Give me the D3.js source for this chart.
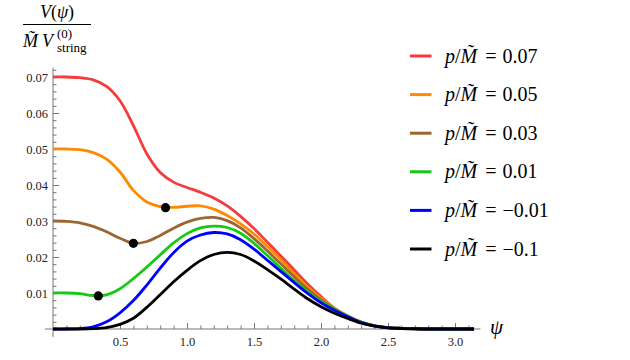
<!DOCTYPE html>
<html>
<head>
<meta charset="utf-8">
<script src="https://cdn.jsdelivr.net/npm/d3@7"></script>
<style>
  body { margin: 0; background: #fff; }
  svg text, svg tspan { font-family: "Liberation Serif", "DejaVu Serif", serif !important; }
  .tick line { stroke: #777; }
</style>
</head>
<body>
<div id="chart"></div>
<script>
const serif = "Liberation Serif";

// psi grid shared by every curve
const psiValues = [0, 0.1, 0.2, 0.3, 0.4, 0.5, 0.6, 0.7, 0.8, 0.9, 1.0, 1.1, 1.2, 1.3, 1.4, 1.5,
  1.6, 1.7, 1.8, 1.9, 2.0, 2.1, 2.2, 2.3, 2.4, 2.5, 2.6, 2.7, 2.8, 2.9, 3.0, 3.1416];

// V(psi), one list per p/M value
const vP007 = [0.0700, 0.0700, 0.0698, 0.0692, 0.0674, 0.0634, 0.0565, 0.0487, 0.0435, 0.0408,
  0.0393, 0.0380, 0.0364, 0.0342, 0.0313, 0.0279, 0.0241, 0.0203, 0.0164, 0.0125, 0.0090,
  0.0058, 0.0036, 0.0019, 0.0009, 0.0004, 0.0002, 0.0001, 0, 0, 0, 0];
const vP005 = [0.0500, 0.0500, 0.0498, 0.0490, 0.0472, 0.0436, 0.0385, 0.0353, 0.0340, 0.0338,
  0.0341, 0.0342, 0.0333, 0.0315, 0.0292, 0.0264, 0.0229, 0.0193, 0.0154, 0.0117, 0.0085,
  0.0058, 0.0036, 0.0019, 0.0009, 0.0004, 0.0002, 0.0001, 0, 0, 0, 0];
const vP003 = [0.0300, 0.0299, 0.0295, 0.0285, 0.0270, 0.0252, 0.0238, 0.0243, 0.0260, 0.0280,
  0.0297, 0.0307, 0.0310, 0.0301, 0.0281, 0.0251, 0.0217, 0.0181, 0.0145, 0.0110, 0.0081,
  0.0056, 0.0035, 0.0019, 0.0009, 0.0004, 0.0002, 0.0001, 0, 0, 0, 0];
const vP001 = [0.0100, 0.0100, 0.0098, 0.0093, 0.0095, 0.0112, 0.0140, 0.0172, 0.0206, 0.0239,
  0.0265, 0.0281, 0.0286, 0.0282, 0.0266, 0.0238, 0.0204, 0.0169, 0.0134, 0.0104, 0.0077,
  0.0055, 0.0035, 0.0019, 0.0009, 0.0004, 0.0002, 0.0001, 0, 0, 0, 0];
const vPm001 = [0, 0, 0.0001, 0.0006, 0.0020, 0.0045, 0.0079, 0.0122, 0.0169, 0.0212,
  0.0244, 0.0261, 0.0268, 0.0264, 0.0248, 0.0222, 0.0191, 0.0160, 0.0129, 0.0099, 0.0073,
  0.0052, 0.0034, 0.0018, 0.0009, 0.0004, 0.0002, 0.0001, 0, 0, 0, 0];
const vPm01 = [0, 0, 0, 0.0001, 0.0004, 0.0013, 0.0030, 0.0060, 0.0095, 0.0131,
  0.0163, 0.0190, 0.0207, 0.0213, 0.0207, 0.0189, 0.0165, 0.0139, 0.0111, 0.0084, 0.0062,
  0.0044, 0.0029, 0.0016, 0.0008, 0.0003, 0.0001, 0, 0, 0, 0, 0];

const seriesLabels = ["0.07", "0.05", "0.03", "0.01", "\u22120.01", "\u22120.1"];
const seriesColors = ["#f53b3b", "#ff8a00", "#9b6634", "#16c916", "#0000ff", "#000000"];
const seriesValues = [vP007, vP005, vP003, vP001, vPm001, vPm01];

// local minima marked with dots
const minimaPsi = [0.84, 0.60, 0.338];
const minimaV = [0.0337, 0.0238, 0.0092];

const xTicks = [0.5, 1.0, 1.5, 2.0, 2.5, 3.0];
const yTicks = [0.01, 0.02, 0.03, 0.04, 0.05, 0.06, 0.07];

const width = 630;
const height = 360;

const svg = d3.select("#chart").append("svg")
  .attr("width", width)
  .attr("height", height);

const x = d3.scaleLinear().domain([0, 3]).range([53, 455]);
const y = d3.scaleLinear().domain([0, 0.07]).range([329, 77]);

// axis lines
svg.append("line")
  .attr("x1", x(-0.06)).attr("x2", x(3.19))
  .attr("y1", y(0)).attr("y2", y(0))
  .attr("stroke", "#777").attr("stroke-width", 1);
svg.append("line")
  .attr("x1", x(0)).attr("x2", x(0))
  .attr("y1", y(-0.0022)).attr("y2", y(0.0726))
  .attr("stroke", "#777").attr("stroke-width", 1);

// x axis: major + minor ticks pointing up
const xMinor = svg.append("g")
  .attr("transform", `translate(0,${y(0)})`)
  .call(d3.axisBottom(x).tickValues(d3.range(1, 32).map((i) => i / 10)).tickSize(-3.5).tickFormat(""));
xMinor.select(".domain").remove();

const xAxis = svg.append("g")
  .attr("transform", `translate(0,${y(0)})`)
  .call(d3.axisBottom(x).tickValues(xTicks).tickSize(-6).tickPadding(8).tickFormat(d3.format(".1f")));
xAxis.select(".domain").remove();

// y axis: major + minor ticks pointing right
const yMinor = svg.append("g")
  .attr("transform", `translate(${x(0)},0)`)
  .call(d3.axisLeft(y).tickValues(d3.range(1, 37).map((i) => i * 0.002)).tickSize(-3.5).tickFormat(""));
yMinor.select(".domain").remove();

const yAxis = svg.append("g")
  .attr("transform", `translate(${x(0)},0)`)
  .call(d3.axisLeft(y).tickValues(yTicks).tickSize(-6).tickPadding(5).tickFormat(d3.format(".2f")));
yAxis.select(".domain").remove();

svg.selectAll("g").attr("font-family", serif);
svg.selectAll(".tick text")
  .attr("font-size", 12.5)
  .attr("fill", "#222");

// curves
const line = d3.line()
  .x((d) => x(d[0]))
  .y((d) => y(d[1]))
  .curve(d3.curveCatmullRom.alpha(0.5));

svg.selectAll("path.curve")
  .data(seriesValues)
  .join("path")
  .attr("class", "curve")
  .attr("d", (vals) => line(vals.map((v, i) => [psiValues[i], v])))
  .attr("fill", "none")
  .attr("stroke", (d, i) => seriesColors[i])
  .attr("stroke-width", 2.8)
  .attr("stroke-linejoin", "round");

// minima dots
svg.selectAll("circle.minimum")
  .data(minimaPsi)
  .join("circle")
  .attr("class", "minimum")
  .attr("cx", (d) => x(d))
  .attr("cy", (d, i) => y(minimaV[i]))
  .attr("r", 4.6)
  .attr("fill", "#000");

// psi axis label
svg.append("text")
  .attr("x", 490).attr("y", 334)
  .style("font-size", "21px").style("font-style", "italic")
  .text("\u03c8");

// y axis title: V(psi) / (M~ V_string^(0))
const title = svg.append("g");
const num = title.append("text")
  .attr("x", 57).attr("y", 18)
  .attr("text-anchor", "middle")
  .style("font-size", "18px");
num.append("tspan").style("font-style", "italic").text("V");
num.append("tspan").text("(");
num.append("tspan").style("font-style", "italic").text("\u03c8");
num.append("tspan").text(")");

title.append("line")
  .attr("x1", 23).attr("x2", 91)
  .attr("y1", 24.5).attr("y2", 24.5)
  .attr("stroke", "#000").attr("stroke-width", 1.2);

const den = title.append("text")
  .attr("x", 23).attr("y", 47)
  .style("font-size", "18px");
den.append("tspan").style("font-style", "italic").text("M\u0303");
den.append("tspan").style("font-style", "italic").attr("dx", 4).text("V");
title.append("text")
  .attr("x", 57).attr("y", 38)
  .style("font-size", "13px")
  .text("(0)");
title.append("text")
  .attr("x", 57).attr("y", 52)
  .style("font-size", "13px")
  .text("string");

// legend
const legend = svg.selectAll("g.legend")
  .data(seriesLabels)
  .join("g")
  .attr("class", "legend")
  .attr("transform", (d, i) => `translate(410,${56 + i * 38.6})`);

legend.append("line")
  .attr("x1", 0).attr("x2", 21.5)
  .attr("stroke", (d, i) => seriesColors[i])
  .attr("stroke-width", 3);

const legendText = legend.append("text")
  .attr("x", 35).attr("y", 6.5)
  .style("font-size", "20px");
legendText.append("tspan").style("font-style", "italic").text("p");
legendText.append("tspan").text("/");
legendText.append("tspan").style("font-style", "italic").text("M\u0303");
legendText.append("tspan").attr("dx", 8).text("=");
legendText.append("tspan").attr("dx", 6).text((d) => d);
</script>
</body>
</html>
